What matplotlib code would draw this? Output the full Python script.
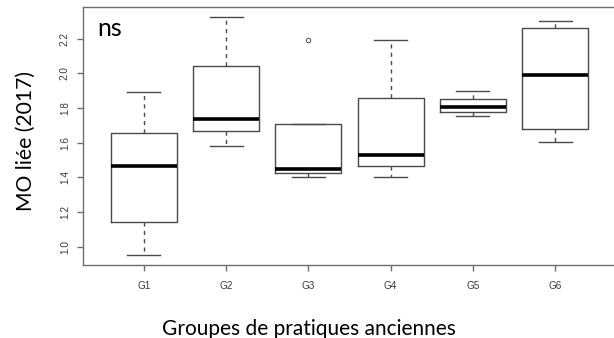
import matplotlib
matplotlib.use("Agg")
import matplotlib.pyplot as plt

# Groups and five-number summaries of bound organic matter (2017)
groups = ["G1", "G2", "G3", "G4", "G5", "G6"]
whisker_low = [0.95, 1.582, 1.404, 1.404, 1.753, 1.602]
q1 = [1.145, 1.670, 1.424, 1.467, 1.780, 1.678]
median = [1.464, 1.737, 1.446, 1.530, 1.805, 1.990]
q3 = [1.659, 2.042, 1.711, 1.860, 1.851, 2.263]
whisker_high = [1.893, 2.328, 1.711, 2.190, 1.898, 2.301]
outliers = [[], [], [2.194], [], [], []]

y_ticks = [1.0, 1.2, 1.4, 1.6, 1.8, 2.0, 2.2]
y_label = "MO liée (2017)"
x_label = "Groupes de pratiques anciennes"
annotation = "ns"

W, H, DPI = 614, 338, 100
fig = plt.figure(figsize=(W / DPI, H / DPI), dpi=DPI)
ax = fig.add_axes([83 / W, 1 - 265 / H, (616 - 83) / W, (265 - 7) / H])

stats = []
for i, g in enumerate(groups):
    stats.append(dict(label=g, whislo=whisker_low[i], q1=q1[i], med=median[i],
                      q3=q3[i], whishi=whisker_high[i], fliers=outliers[i]))

line_col = "#4a4a4a"
positions = list(range(1, len(groups) + 1))
ax.bxp(stats, positions=positions, widths=0.8, showfliers=True,
       boxprops=dict(color=line_col, linewidth=1.0),
       whiskerprops=dict(color=line_col, linewidth=1.0, linestyle=(0, (3, 3))),
       capprops=dict(color=line_col, linewidth=1.0),
       medianprops=dict(color="black", linewidth=2.6),
       flierprops=dict(marker="o", markersize=3.2, markerfacecolor="none",
                       markeredgecolor=line_col, markeredgewidth=0.7),
       capwidths=0.4)

ax.set_xlim(0.26, 6.74)
ax.set_ylim(0.895, 2.383)
ax.set_yticks(y_ticks)
ax.set_yticklabels([f"{v:.1f}" for v in y_ticks], rotation=90, va="center")
ax.set_xticks(positions)
ax.set_xticklabels(groups)

frame_col = "#6e6e6e"
for s in ax.spines.values():
    s.set_color(frame_col)
    s.set_linewidth(1.0)
ax.tick_params(axis="both", colors=frame_col, labelcolor="#3a3a3a",
               labelsize=7.2, length=4.5, width=1.0)
for lbl in ax.get_xticklabels() + ax.get_yticklabels():
    lbl.set_family("Liberation Sans")
ax.tick_params(axis="x", pad=7)
ax.tick_params(axis="y", pad=5)

font = "Lato"
fig.text(97 / W, 1 - 36 / H, annotation, ha="left", va="baseline",
         fontsize=18, family=font, color="black")
fig.text(26 / W, 1 - 141 / H, y_label, ha="center", va="center", rotation=90,
         fontsize=15.2, family=font, color="black")
fig.text(309 / W, 1 - 335 / H, x_label, ha="center", va="baseline",
         fontsize=15, family=font, color="black")

fig.savefig("out.png", dpi=DPI)
